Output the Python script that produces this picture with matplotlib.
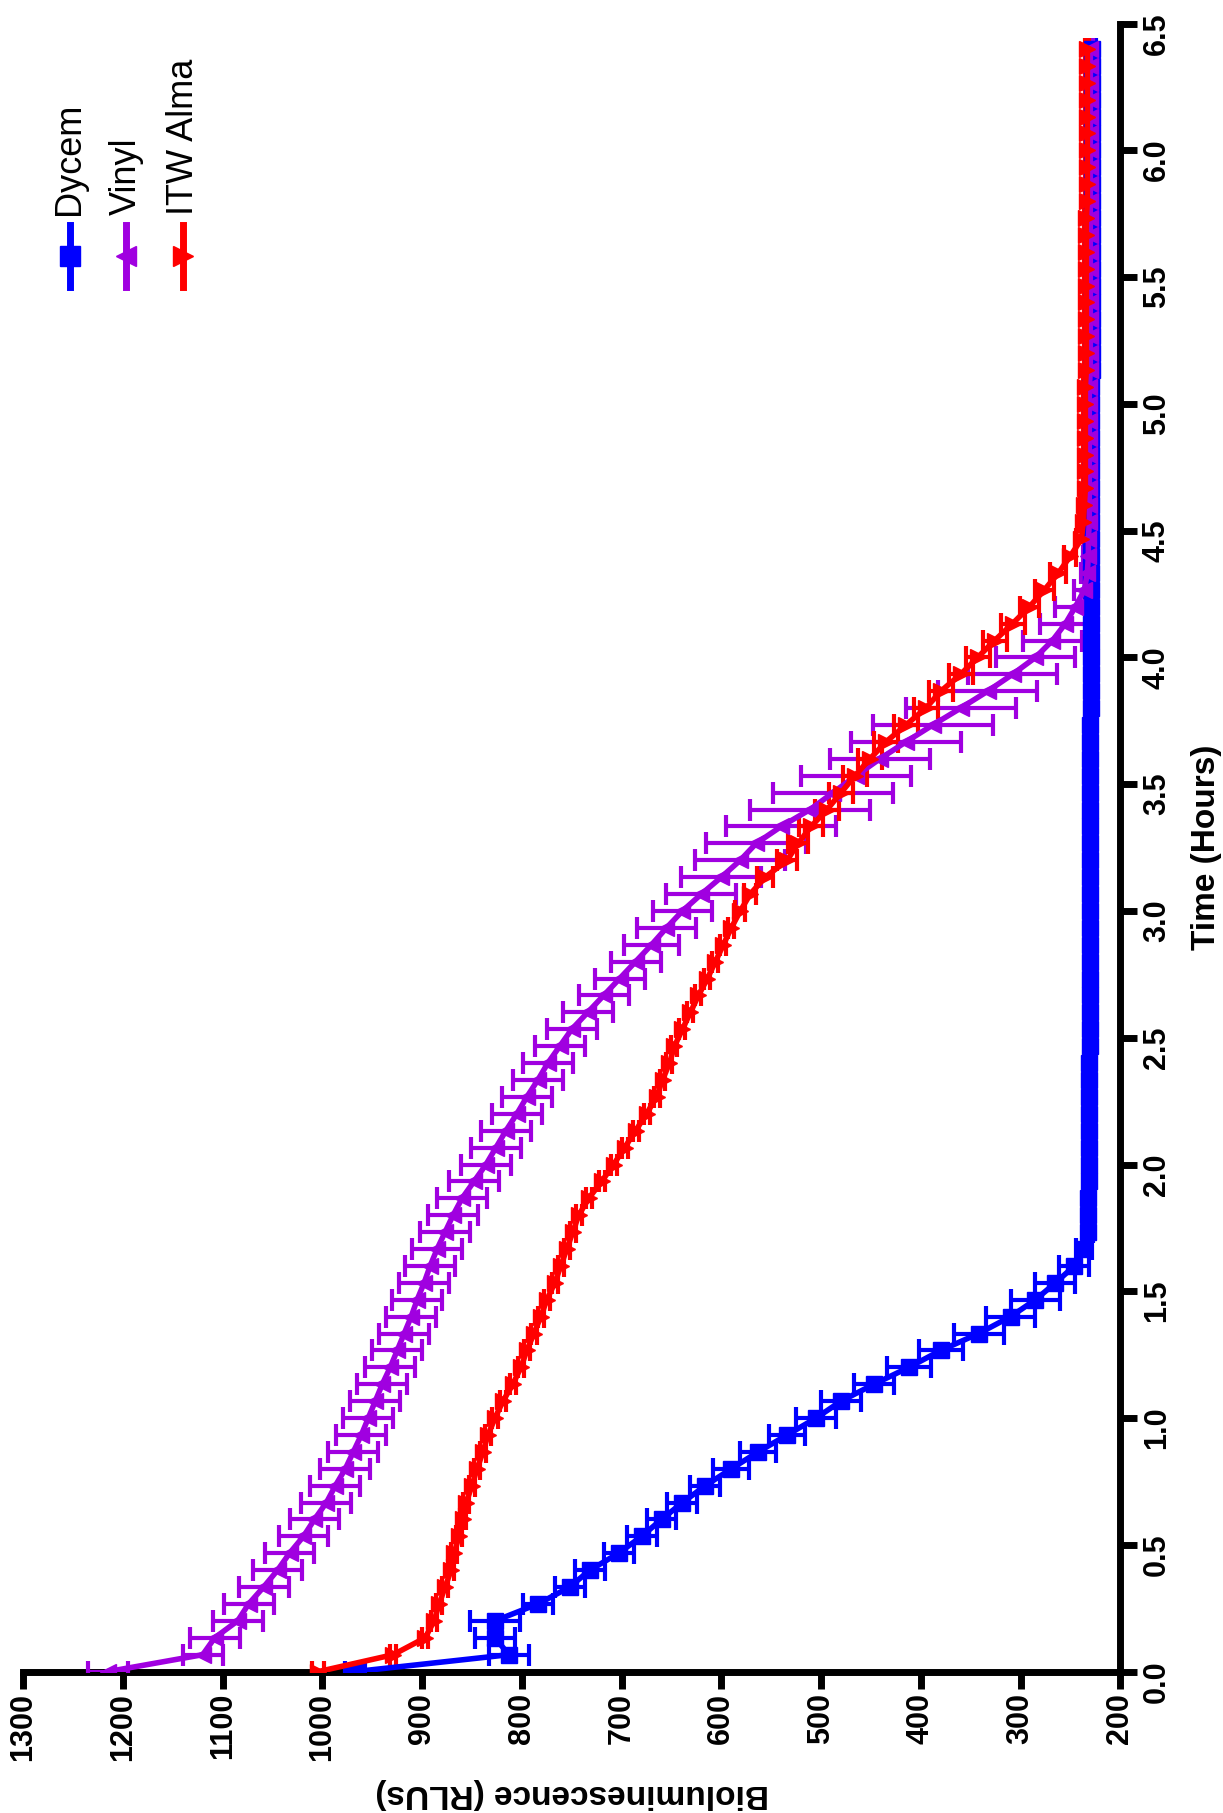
import numpy as np
import matplotlib
matplotlib.use("Agg")
import matplotlib.pyplot as plt

plt.rcParams['font.family'] = ['Liberation Sans', 'DejaVu Sans']

time_h = np.arange(97) / 15.0

dycem = [967, 813, 827, 827, 784, 752, 732, 703, 680, 660, 639, 616, 590, 563, 534, 505,
         480, 447, 412, 380, 342, 310, 285, 265, 246, 236, 232,
         232, 232, 231, 231, 231, 231, 231, 231, 231, 231] + [230] * 20 + [229] * 20 + [228] * 20
dycem_err = [10, 20, 20, 25, 15, 15, 15, 15, 15, 15, 15, 15, 18, 18, 18, 20,
             20, 20, 22, 22, 25, 25, 25, 20, 15, 8, 5] + [4] * 70

vinyl = [1215, 1120, 1108, 1085, 1074, 1059, 1045, 1033, 1019, 1008, 996, 987, 977, 969, 961, 954,
         947, 940, 932, 925, 918, 911, 905, 898, 892, 885, 877, 869, 860, 848, 836,
         826, 816, 805, 795, 784, 774, 762, 750, 734, 718, 702, 686, 670, 655, 639,
         620, 600, 581, 565, 540, 511, 488, 465, 441, 415, 388, 360, 333, 308, 285,
         268, 255, 245, 236, 233, 232, 232, 231] + [231] * 8 + [230] * 20
vinyl_err = [20, 20, 25, 25, 25, 25, 25, 25, 25, 25, 25, 25, 25, 25, 25, 25,
             25, 25, 25, 25, 25, 25, 25, 25, 25, 25, 25, 25, 25, 25, 25,
             25, 25, 25, 25, 25, 25, 25, 25, 25, 25, 25, 25, 28, 30, 30,
             35, 40, 45, 50, 55, 60, 60, 55, 50, 55, 60, 55, 50, 45, 40,
             30, 25, 20, 10, 6, 5, 4, 4] + [3] * 28

alma = [1004, 929, 897, 888, 883, 877, 871, 868, 863, 859, 856, 850, 845, 839, 834, 827,
        819, 809, 801, 795, 788, 781, 775, 767, 761, 755, 749, 743, 733, 720, 708,
        697, 686, 675, 665, 659, 652, 647, 639, 631, 623, 614, 606, 598, 590, 581,
        571, 556, 534, 523, 510, 494, 480, 466, 451, 435, 415, 395, 380, 360, 343,
        326, 308, 291, 276, 262, 250, 239, 237, 236] + [235] * 7 + [234] * 10 + [233] * 10
alma_err = [6] + [3] * 44 + [5, 6, 8, 10, 10, 12, 12, 12, 12, 12, 12, 12, 12, 12, 12,
                             12, 12, 12, 10, 10, 8, 6, 5, 4, 4] + [2] * 27

series = [
    ("Dycem", dycem, dycem_err, "#0000ff", "s"),
    ("Vinyl", vinyl, vinyl_err, "#a000e0", "<"),
    ("ITW Alma", alma, alma_err, "#ff0000", ">"),
]

fig = plt.figure(figsize=(12.23, 18.13), dpi=100)
ax = fig.add_axes([0.019, 0.078, 0.897, 0.909])

for name, vals, err, col, mk in series:
    ax.errorbar(vals, time_h, xerr=err, color=col, marker=mk, markersize=11,
                linewidth=4, elinewidth=3, capsize=8, capthick=3, zorder=3)

ax.set_xlim(1300, 200)
ax.set_ylim(0, 6.5)
ax.set_xticks(np.arange(200, 1301, 100))
ax.set_yticks(np.arange(0, 6.51, 0.5))
ax.set_yticklabels([f"{v:.1f}" for v in np.arange(0, 6.51, 0.5)])
ax.yaxis.tick_right()
ax.yaxis.set_label_position("right")
for s in ["top", "left"]:
    ax.spines[s].set_visible(False)
for s in ["bottom", "right"]:
    ax.spines[s].set_linewidth(5)
ax.tick_params(width=5, length=12, labelsize=22)
for lab in ax.get_xticklabels() + ax.get_yticklabels():
    lab.set_rotation(90)
    lab.set_fontweight("bold")
ax.set_ylabel("Time (Hours)", fontsize=24, fontweight="bold", rotation=90, labelpad=14)
ax.set_xlabel("Bioluminescence (RLUs)", fontsize=24, fontweight="bold", rotation=180, labelpad=12)

leg_x = [0.057, 0.103, 0.150]
for (name, vals, err, col, mk), lx in zip(series, leg_x):
    fig.lines.append(plt.Line2D([lx, lx], [1 - 287 / 1813, 1 - 225 / 1813], transform=fig.transFigure,
                                color=col, linewidth=5))
    fig.lines.append(plt.Line2D([lx], [1 - 256 / 1813], transform=fig.transFigure, color=col,
                                marker=mk, markersize=15, linestyle="none"))
    fig.text(lx, 1 - 215 / 1813, name, rotation=90, ha="center", va="bottom", fontsize=26)

fig.savefig("out.png", dpi=100)
